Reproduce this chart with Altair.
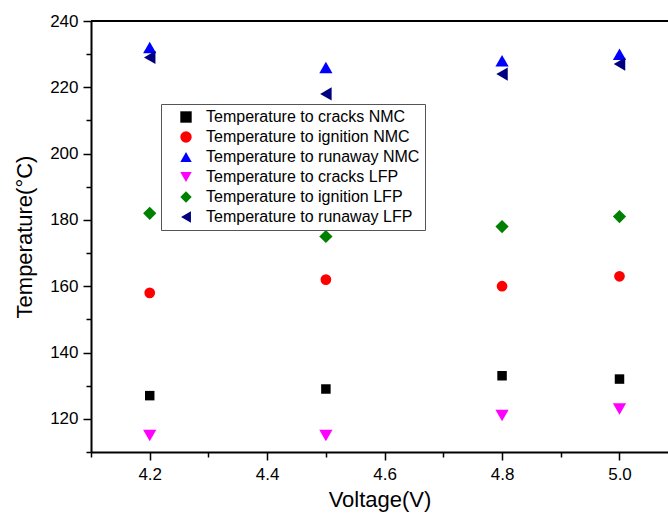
import altair as alt
import pandas as pd

# ---- data ----
voltage = [4.2, 4.5, 4.8, 5.0]
series_names = [
    "Temperature to cracks NMC",
    "Temperature to ignition NMC",
    "Temperature to runaway NMC",
    "Temperature to cracks LFP",
    "Temperature to ignition LFP",
    "Temperature to runaway LFP",
]
cracks_nmc = [127, 129, 133, 132]
ignition_nmc = [158, 162, 160, 163]
runaway_nmc = [232, 226, 228, 230]
cracks_lfp = [115, 115, 121, 123]
ignition_lfp = [182, 175, 178, 181]
runaway_lfp = [229, 218, 224, 227]

x_tick_values = [4.1, 4.2, 4.3, 4.4, 4.5, 4.6, 4.7, 4.8, 4.9, 5.0]
y_tick_values = [110, 120, 130, 140, 150, 160, 170, 180, 190, 200, 210, 220, 230, 240]

series_values = [cracks_nmc, ignition_nmc, runaway_nmc, cracks_lfp, ignition_lfp, runaway_lfp]
rows = []
for name, vals in zip(series_names, series_values):
    for v, t in zip(voltage, vals):
        rows.append({"Voltage": v, "Temperature": t, "Series": name})
df = pd.DataFrame(rows)

colors = ["#000000", "#ff0000", "#0000ff", "#ff00ff", "#008000", "#000080"]
shapes = ["square", "circle", "triangle-up", "triangle-down", "diamond", "triangle-left"]

FONT = "Liberation Sans"

x_major = "abs(datum.value*5 - round(datum.value*5)) < 0.001"
y_major = "abs(datum.value/20 - round(datum.value/20)) < 0.001"

x_axis = alt.Axis(
    values=x_tick_values,
    title="Voltage(V)",
    labelExpr=f"({x_major}) ? format(datum.value, '.1f') : ''",
    tickSize={"condition": {"test": x_major, "value": 8}, "value": 5},
    tickColor="black",
    tickWidth=1.5,
    domainColor="black",
    domainWidth=2,
    labelColor="black",
    labelFont=FONT,
    labelFontSize=17,
    labelPadding=6,
    labelOverlap=False,
    labelFlush=False,
    titleFont=FONT,
    titleFontSize=22,
    titleFontWeight="normal",
    titleColor="black",
    titlePadding=7,
    grid=False,
)

y_axis = alt.Axis(
    values=y_tick_values,
    title="Temperature(°C)",
    labelExpr=f"({y_major}) ? format(datum.value, 'd') : ''",
    tickSize={"condition": {"test": y_major, "value": 8}, "value": 5},
    tickColor="black",
    tickWidth=1.5,
    domainColor="black",
    domainWidth=2,
    labelColor="black",
    labelFont=FONT,
    labelFontSize=17,
    labelPadding=5,
    labelOverlap=False,
    labelFlush=False,
    titleFont=FONT,
    titleFontSize=22,
    titleFontWeight="normal",
    titleColor="black",
    titlePadding=13,
    grid=False,
)

x_scale = alt.Scale(domain=[4.1, 5.0826], nice=False, zero=False)
y_scale = alt.Scale(domain=[110, 240], nice=False, zero=False)

size_enc = alt.SizeValue(
    175,
    condition=[
        {"test": f"datum.Series == '{series_names[0]}'", "value": 90},
        {"test": f"datum.Series == '{series_names[1]}'", "value": 115},
    ],
)

points = alt.Chart(df).mark_point(filled=True, opacity=1).encode(
    x=alt.X("Voltage:Q", scale=x_scale, axis=x_axis),
    y=alt.Y("Temperature:Q", scale=y_scale, axis=y_axis),
    color=alt.Color(
        "Series:N",
        scale=alt.Scale(domain=series_names, range=colors),
        sort=series_names,
        legend=alt.Legend(
            title=None,
            orient="none",
            legendX=70,
            legendY=83,
            fillColor="white",
            strokeColor="#555555",
            padding=5,
            labelFont=FONT,
            labelFontSize=16,
            labelColor="black",
            labelLimit=400,
            labelOffset=12,
            rowPadding=4,
            symbolOffset=12,
            symbolSize=130,
            symbolStrokeWidth=0,
            symbolOpacity=1,
        ),
    ),
    shape=alt.Shape(
        "Series:N",
        scale=alt.Scale(domain=series_names, range=shapes),
        sort=series_names,
    ),
    size=size_enc,
)

top_line = alt.Chart(df).mark_rule(color="black", strokeWidth=2).encode(
    y=alt.value(0)
)

chart = (
    alt.layer(points, top_line)
    .properties(
        width=577,
        height=431,
        autosize=alt.AutoSizeParams(type="none"),
        padding={"left": 91, "top": 21, "right": 0, "bottom": 68},
        background="white",
    )
    .configure_view(stroke=None)
)

chart.save("out.html", embed_options={"renderer": "svg", "actions": False})
